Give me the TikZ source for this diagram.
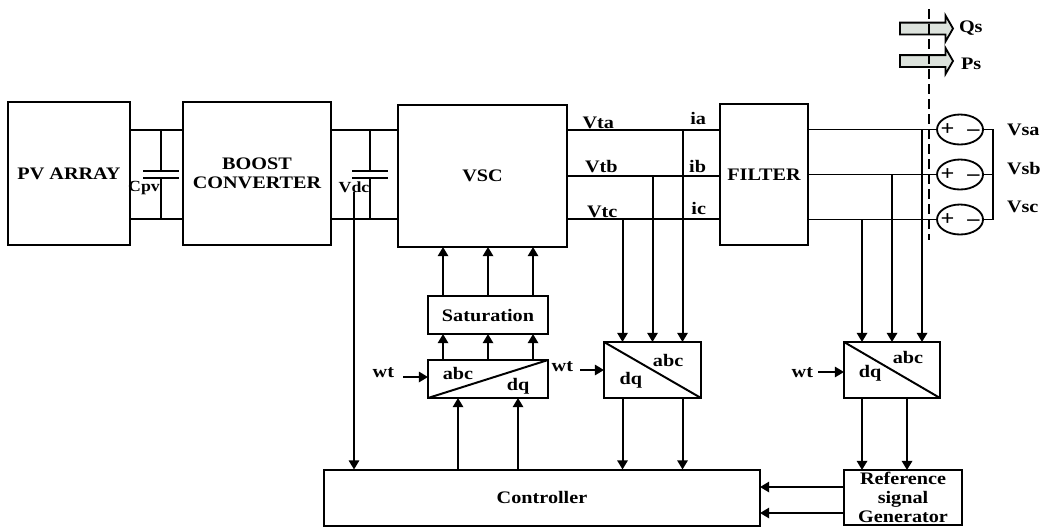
\documentclass[tikz,border=0pt]{standalone}
\usepackage{fontspec}
\setmainfont{Liberation Serif}[FakeStretch=1.15]
\usetikzlibrary{arrows.meta, positioning, shapes.geometric, shapes.arrows}

\begin{document}
\begin{tikzpicture}[x=0.25mm, y=-0.25mm,
                font=\fontsize{12.5}{13.5}\selectfont\bfseries,
                blockbox/.style={draw, line width=1.4pt, inner sep=0pt, outer sep=0pt, align=center},
                lbl/.style={inner sep=0pt, outer sep=0pt},
                smalllbl/.style={inner sep=0pt, outer sep=0pt, font=\fontsize{11}{12}\selectfont\bfseries},
                wire/.style={line width=1.4pt},
                sig/.style={line width=1.4pt, -{Triangle[length=2.3mm,width=2.6mm]}},
                srcnode/.style={draw, ellipse, line width=1.3pt, inner sep=0pt, outer sep=0pt, minimum width=11.5mm, minimum height=7.5mm,
                    font=\fontsize{15}{15}\selectfont\bfseries},
                flowarrow/.style={draw, single arrow, line width=1.3pt, fill=green!10!gray!25, inner sep=1.25mm, outer sep=0pt,
                    minimum height=13.25mm, single arrow head extend=1.75mm, single arrow tip angle=120, anchor=west}]
                \useasboundingbox (0,0) rectangle (1041,527);

                % Power path
                \node[blockbox, anchor=north west, minimum width=30.5mm, minimum height=35.75mm] (pv) at (8,102) {PV ARRAY};
                \node[blockbox, right=13.25mm of pv, minimum width=37mm, minimum height=35.75mm] (boost) {BOOST\\CONVERTER};
                \node[blockbox, right=16.75mm of boost, yshift=-0.625mm, minimum width=42.25mm, minimum height=35.5mm] (vsc) {VSC};
                \node[blockbox, right=38.25mm of vsc, yshift=0.375mm, minimum width=22mm, minimum height=35.25mm] (filter) {FILTER};

                % Control blocks
                \node[blockbox, below=12.25mm of vsc, xshift=1.375mm, minimum width=30mm, minimum height=9.5mm] (sat) {Saturation};
                \node[blockbox, below=6.5mm of sat, minimum width=30mm, minimum height=9.5mm] (abcl) {};
                \node[blockbox, right=14mm of abcl, yshift=2.25mm, minimum width=24.25mm, minimum height=14mm] (dqm) {};
                \node[blockbox, right=35.75mm of dqm, minimum width=24mm, minimum height=14mm] (dqr) {};
                \node[blockbox, below=18mm of dqr, xshift=2.75mm, minimum width=29.5mm, minimum height=13.75mm] (ref) {Reference\\signal\\Generator};
                \node[blockbox, left=21mm of ref, minimum width=109mm, minimum height=14mm] (ctrl) {Controller};

                % Grid sources
                \node[srcnode, right=32.25mm of filter] (sb) {\makebox[0pt]{+\hspace{3.2mm}–}};
                \node[srcnode, above=3.75mm of sb] (sa) {\makebox[0pt]{+\hspace{3.2mm}–}};
                \node[srcnode, below=3.75mm of sb] (sc) {\makebox[0pt]{+\hspace{3.2mm}–}};
                \node[lbl, right=6mm of sa] {Vsa};
                \node[lbl, right=6mm of sb, yshift=1.5mm] {Vsb};
                \node[lbl, right=6mm of sc, yshift=3.25mm] {Vsc};

                % Power flow
                \node[flowarrow] (qs) at (900,28.5) {};
                \node[flowarrow] (ps) at (900,61) {};
                \node[lbl, anchor=west] at (959,28) {Qs};
                \node[lbl, anchor=west] at (961,64) {Ps};
                \coordinate (cuttop) at (929,9);
                \coordinate (cutbot) at (929,240);
                \draw[wire, dash pattern=on 2.5mm off 1.25mm] (cuttop) -- (cutbot);

                % DC side
                \coordinate (pt) at ([yshift=10.875mm]pv.east);
                \coordinate (pb) at ([yshift=-11.375mm]pv.east);
                \draw[wire] (pt) -- (pt -| boost.west);
                \draw[wire] (pb) -- (pb -| boost.west);
                \draw[wire] (pt -| boost.east) -- (pt -| vsc.west);
                \draw[wire] (pb -| boost.east) -- (pb -| vsc.west);

                % Capacitors
                \coordinate (cpvu) at ([xshift=7.75mm,yshift=0.625mm]pv.east);
                \coordinate (cpvd) at ([xshift=7.75mm,yshift=-1.125mm]pv.east);
                \draw[wire] (cpvu |- pt) -- (cpvu);
                \draw[wire] (cpvd) -- (cpvd |- pb);
                \draw[wire] ([xshift=-4.5mm]cpvu) -- ([xshift=4.5mm]cpvu);
                \draw[wire] ([xshift=-4.5mm]cpvd) -- ([xshift=4.5mm]cpvd);
                \node[smalllbl] at ([xshift=-4.25mm,yshift=-2.5mm]cpvd) {Cpv};
                \coordinate (cdcu) at ([xshift=9.75mm,yshift=0.625mm]boost.east);
                \coordinate (cdcd) at ([xshift=9.75mm,yshift=-1.125mm]boost.east);
                \draw[wire] (cdcu |- pt) -- (cdcu);
                \draw[wire] (cdcd) -- (cdcd |- pb);
                \draw[wire] ([xshift=-4.5mm]cdcu) -- ([xshift=4.5mm]cdcu);
                \draw[wire] ([xshift=-4.5mm]cdcd) -- ([xshift=4.5mm]cdcd);
                \node[smalllbl] (vdc) at ([xshift=-4mm,yshift=-2.25mm]cdcd) {Vdc};
                \draw[sig] (vdc.south) -- (vdc.south |- ctrl.north);

                % AC side
                \coordinate (ta) at ([yshift=11.5mm]vsc.east);
                \coordinate (tb) at (vsc.east);
                \coordinate (tc) at ([yshift=-10.75mm]vsc.east);
                \draw[wire] (ta) -- (ta -| filter.west);
                \draw[wire] (tb) -- (tb -| filter.west);
                \draw[wire] (tc) -- (tc -| filter.west);
                \node[lbl, above right=0.2mm and 3.9mm of ta] {Vta};
                \node[lbl, above right=0.75mm and 4.5mm of tb] {Vtb};
                \node[lbl, above right=0.25mm and 5mm of tc] {Vtc};
                \coordinate (fa) at (ta -| filter.west);
                \coordinate (fb) at (tb -| filter.west);
                \coordinate (fc) at (tc -| filter.west);
                \node[lbl, above left=1.25mm and 3.5mm of fa] {ia};
                \node[lbl, above left=0.75mm and 3.5mm of fb] {ib};
                \node[lbl, above left=1mm and 3.5mm of fc] {ic};
                \draw[wire] (sa.west -| filter.east) -- (sa.west);
                \draw[wire] (sb.west -| filter.east) -- (sb.west);
                \draw[wire] (sc.west -| filter.east) -- (sc.west);

                % Source neutral
                \coordinate (busa) at ([xshift=2.5mm]sa.east);
                \coordinate (busc) at (busa |- sc.east);
                \draw[wire] (sa.east) -- (busa) -- (busc) -- (sc.east);
                \draw[wire] (sb.east) -- (busa |- sb.east);

                % VSC gating
                \coordinate (ga) at ([xshift=-11.25mm]sat.north);
                \coordinate (gc) at ([xshift=11.25mm]sat.north);
                \draw[sig] (ga) -- (ga |- vsc.south);
                \draw[sig] (sat.north) -- (sat.north |- vsc.south);
                \draw[sig] (gc) -- (gc |- vsc.south);
                \coordinate (ha) at ([xshift=-11.25mm]abcl.north);
                \coordinate (hc) at ([xshift=11.25mm]abcl.north);
                \draw[sig] (ha) -- (ha |- sat.south);
                \draw[sig] (abcl.north) -- (abcl.north |- sat.south);
                \draw[sig] (hc) -- (hc |- sat.south);

                % Left transform
                \draw[wire] (abcl.south west) -- (abcl.north east);
                \node[lbl] at ([xshift=-7.5mm,yshift=1.5mm]abcl.center) {abc};
                \node[lbl] at ([xshift=7.5mm,yshift=-1.75mm]abcl.center) {dq};
                \node[lbl, left=8.5mm of abcl.west, yshift=1.5mm] {wt};
                \coordinate (wla) at ([yshift=0.5mm]abcl.west);
                \draw[sig] ([xshift=-6.25mm]wla) -- (wla);
                \coordinate (ld) at ([xshift=-7.5mm]abcl.south);
                \coordinate (lq) at ([xshift=7.5mm]abcl.south);
                \draw[sig] (ld |- ctrl.north) -- (ld);
                \draw[sig] (lq |- ctrl.north) -- (lq);

                % Middle transform
                \draw[wire] (dqm.north west) -- (dqm.south east);
                \node[lbl] at ([xshift=3.9mm,yshift=2.5mm]dqm.center) {abc};
                \node[lbl] at ([xshift=-5.4mm,yshift=-2.5mm]dqm.center) {dq};
                \node[lbl, left=7.75mm of dqm.west, yshift=0.75mm] {wt};
                \draw[sig] ([xshift=-6mm]dqm.west) -- (dqm.west);
                \coordinate (ma) at ([xshift=7.5mm]dqm.north);
                \coordinate (mc) at ([xshift=-7.5mm]dqm.north);
                \draw[sig] (ma |- ta) -- (ma);
                \draw[sig] (dqm.north |- tb) -- (dqm.north);
                \draw[sig] (mc |- tc) -- (mc);
                \coordinate (md) at ([xshift=-7.5mm]dqm.south);
                \coordinate (mq) at ([xshift=7.5mm]dqm.south);
                \draw[sig] (md) -- (md |- ctrl.north);
                \draw[sig] (mq) -- (mq |- ctrl.north);

                % Right transform
                \draw[wire] (dqr.north west) -- (dqr.south east);
                \node[lbl] at ([xshift=4mm,yshift=3.25mm]dqr.center) {abc};
                \node[lbl] at ([xshift=-5.5mm,yshift=-0.75mm]dqr.center) {dq};
                \node[lbl, left=7.75mm of dqr.west, yshift=-0.75mm] {wt};
                \coordinate (wra) at ([yshift=-0.5mm]dqr.west);
                \draw[sig] ([xshift=-6.5mm]wra) -- (wra);
                \coordinate (ra) at ([xshift=7.5mm]dqr.north);
                \coordinate (rc) at ([xshift=-7.5mm]dqr.north);
                \draw[sig] (ra |- sa.west) -- (ra);
                \draw[sig] (dqr.north |- sb.west) -- (dqr.north);
                \draw[sig] (rc |- sc.west) -- (rc);
                \coordinate (rd) at ([xshift=-7.5mm]dqr.south);
                \coordinate (rq) at ([xshift=3.75mm]dqr.south);
                \draw[sig] (rd) -- (rd |- ref.north);
                \draw[sig] (rq) -- (rq |- ref.north);

                % Reference to controller
                \coordinate (refu) at ([yshift=2.625mm]ref.west);
                \coordinate (refd) at ([yshift=-3.875mm]ref.west);
                \draw[sig] (refu) -- (refu -| ctrl.east);
                \draw[sig] (refd) -- (refd -| ctrl.east);
            \end{tikzpicture}
\end{document}
